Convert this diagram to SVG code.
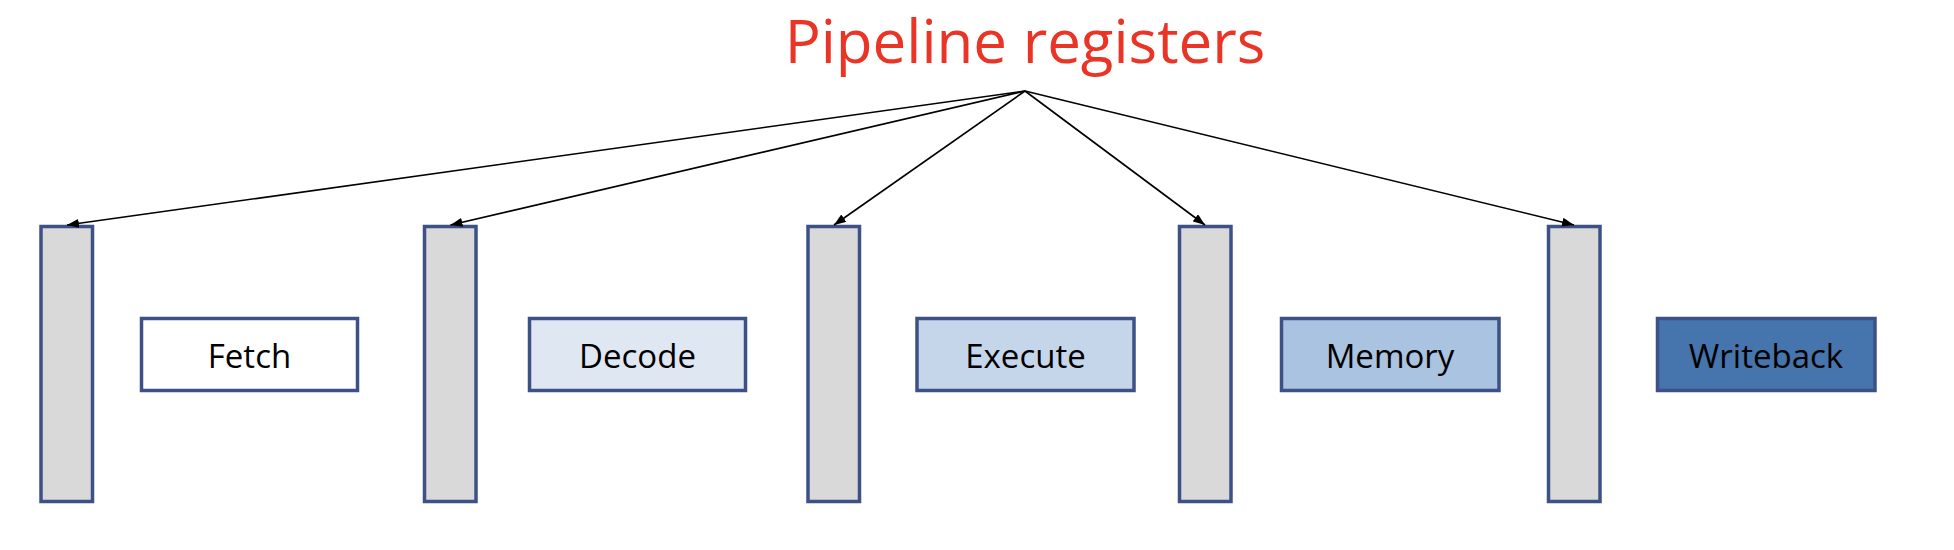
<svg xmlns="http://www.w3.org/2000/svg" width="1954" height="550" viewBox="0 0 1954 550">
<style>
.reg{fill:#D9D9D9;stroke:#3D5187;stroke-width:3.5}
.stage{stroke:#3D5187;stroke-width:3.5}
.lbl{font-family:"Open Sans","Noto Sans",sans-serif;font-size:33px;fill:#000;text-anchor:middle;dominant-baseline:central}
.title{font-family:"Open Sans","Noto Sans",sans-serif;font-size:60px;fill:#EA3426;text-anchor:middle}
.conn{stroke:#000;stroke-width:1.6;fill:none;marker-end:url(#ah)}
</style>
<defs>
<marker id="ah" viewBox="0 0 10 10" refX="10" refY="5" markerWidth="12" markerHeight="9" markerUnits="userSpaceOnUse" orient="auto" preserveAspectRatio="none">
<path d="M0,0 L10,5 L0,10 z" fill="#000"/>
</marker>
</defs>
<rect width="1954" height="550" fill="#fff"/>
<text id="title" class="title" x="1025" y="63">Pipeline registers</text>
<g id="reg1"><rect class="reg" x="41" y="226.5" width="51.5" height="275"/></g>
<g id="reg2"><rect class="reg" x="424.5" y="226.5" width="51.5" height="275"/></g>
<g id="reg3"><rect class="reg" x="808" y="226.5" width="51.5" height="275"/></g>
<g id="reg4"><rect class="reg" x="1179.5" y="226.5" width="51.5" height="275"/></g>
<g id="reg5"><rect class="reg" x="1548.5" y="226.5" width="51.5" height="275"/></g>
<g id="fetch"><rect class="stage" fill="#FFFFFF" x="141.5" y="318.5" width="216" height="72"/><text class="lbl" x="249.5" y="355">Fetch</text></g>
<g id="decode"><rect class="stage" fill="#DFE7F3" x="529.5" y="318.5" width="216" height="72"/><text class="lbl" x="637.5" y="355">Decode</text></g>
<g id="execute"><rect class="stage" fill="#C5D6EB" x="917" y="318.5" width="217" height="72"/><text class="lbl" x="1025.5" y="355">Execute</text></g>
<g id="memory"><rect class="stage" fill="#A9C3E0" x="1281.5" y="318.5" width="217.5" height="72"/><text class="lbl" x="1390" y="355">Memory</text></g>
<g id="writeback"><rect class="stage" fill="#4674AC" x="1657.5" y="318.5" width="217.5" height="72"/><text class="lbl" x="1766" y="355">Writeback</text></g>
<g id="connectors">
<line class="conn" x1="1025" y1="91" x2="67" y2="225"/>
<line class="conn" x1="1025" y1="91" x2="450.5" y2="225"/>
<line class="conn" x1="1025" y1="91" x2="834" y2="225"/>
<line class="conn" x1="1025" y1="91" x2="1205" y2="225"/>
<line class="conn" x1="1025" y1="91" x2="1574" y2="225"/>
</g>
</svg>
